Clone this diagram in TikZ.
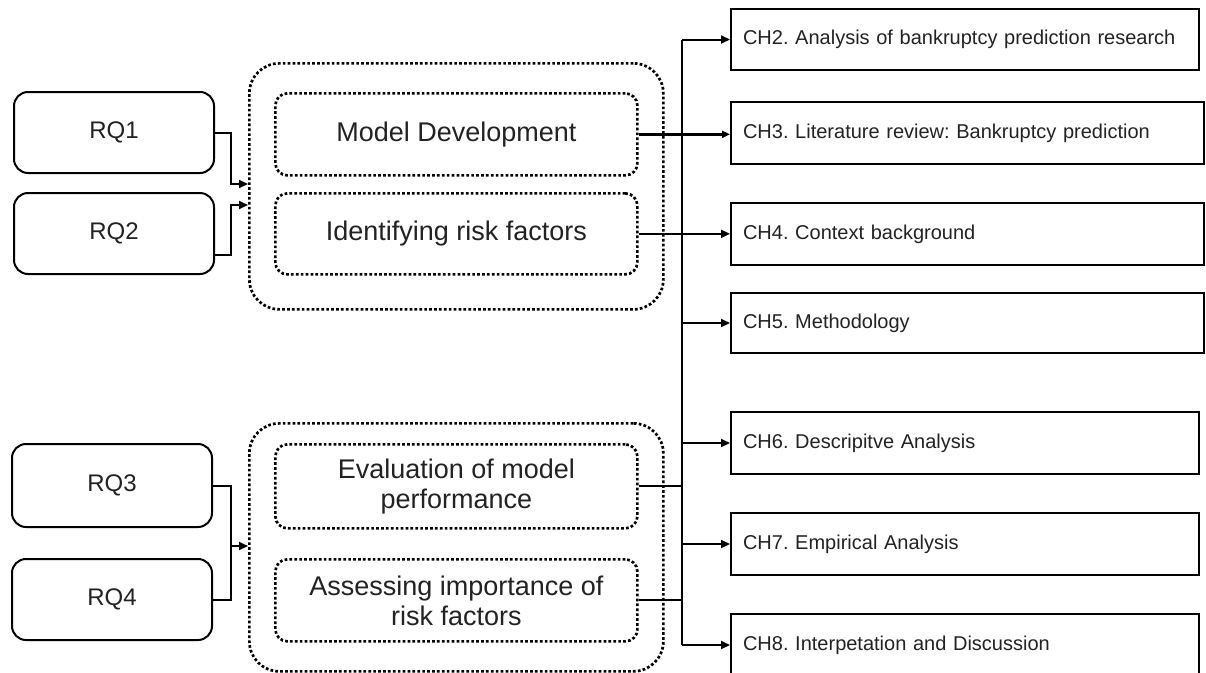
\documentclass[tikz,border=0pt]{standalone}
\usepackage{fontspec}
\setmainfont{Liberation Sans}
\usetikzlibrary{arrows.meta}
\definecolor{txt}{HTML}{222222}
\frenchspacing
\begin{document}
\begin{tikzpicture}[x=1pt,y=-1pt,
  rqbox/.style={draw, line width=2pt, rounded corners=14pt, anchor=north west, minimum width=200pt, text=txt, font=\fontsize{24}{28}\selectfont},
  outerbox/.style={draw, line width=2.7pt, dash pattern=on 2.7pt off 2.2pt, rounded corners=30pt, anchor=north west, minimum width=414pt},
  innerbox/.style={draw, line width=2.7pt, dash pattern=on 2.7pt off 2.2pt, rounded corners=12pt, anchor=north west, minimum width=362pt, text=txt, align=center, font=\fontsize{27}{30}\selectfont},
  chbox/.style={draw, line width=2pt, anchor=north west, inner xsep=12pt, text=txt, align=left, font=\fontsize{20}{24}\selectfont},
  ln/.style={line width=2pt},
  arr/.style={line width=2pt, -{Triangle[length=9pt,width=8pt]}},
  tarr/.style={line width=3.4pt, -{Triangle[length=8pt,width=7pt]}}]
\useasboundingbox (0,0) rectangle (1206,672);
\clip (0,0) rectangle (1206,672);
% RQ boxes
\node[rqbox, minimum height=81pt] (rq1) at (13,91) {RQ1};
\node[rqbox, minimum height=81pt] (rq2) at (13,192) {RQ2};
\node[rqbox, minimum height=83pt] (rq3) at (11,443) {RQ3};
\node[rqbox, minimum height=81pt] (rq4) at (11,558) {RQ4};
% outer dotted groups
\node[outerbox, minimum height=246pt] (g1) at (248,62) {};
\node[outerbox, minimum height=248pt] (g2) at (248,422) {};
% inner dotted boxes
\node[innerbox, minimum height=82pt] (m1) at (274,92) {Model Development};
\node[innerbox, minimum height=81pt] (m2) at (274,192) {Identifying risk factors};
\node[innerbox, minimum height=84pt] (m3) at (274,443) {Evaluation of model\\performance};
\node[innerbox, minimum height=82pt] (m4) at (274,558) {Assessing importance of\\risk factors};
% chapter boxes
\node[chbox, minimum width=468pt, minimum height=61pt, text width=444pt] (ch2) at (730,8) {CH2. Analysis of bankruptcy prediction research};
\node[chbox, minimum width=473pt, minimum height=62pt, text width=449pt] (ch3) at (730,101) {CH3. Literature review: Bankruptcy prediction};
\node[chbox, minimum width=473pt, minimum height=62pt, text width=449pt] (ch4) at (730,202) {CH4. Context background};
\node[chbox, minimum width=473pt, minimum height=60pt, text width=449pt] (ch5) at (730,292) {CH5. Methodology};
\node[chbox, minimum width=468pt, minimum height=62pt, text width=444pt] (ch6) at (730,411) {CH6. Descripitve Analysis};
\node[chbox, minimum width=468pt, minimum height=62pt, text width=444pt] (ch7) at (730,512) {CH7. Empirical Analysis};
\node[chbox, minimum width=468pt, minimum height=62pt, text width=444pt] (ch8) at (730,613) {CH8. Interpetation and Discussion};
% helper coordinates
\coordinate (in1) at (248,184);
\coordinate (in2) at (248,205);
\coordinate (in34) at (248,546);
\coordinate (jx) at (231,0);
\coordinate (bus) at (682,0);
% RQ connectors
\draw[arr] (rq1.east) -| (jx |- in1) -- (in1);
\draw[arr] ([yshift=-21pt]rq2.east) -| (jx |- in2) -- (in2);
\draw[ln] (rq3.east) -| (jx |- rq4.east) -- (rq4.east);
\draw[arr] (in34 -| jx) -- (in34);
% bus
\draw[ln] (ch2.west -| bus) -- (ch8.west -| bus);
\draw[ln] (m3.east) -- (m3.east -| bus);
\draw[ln] (m4.east) -- (m4.east -| bus);
\draw[arr] (ch2.west -| bus) -- (ch2.west);
\draw[tarr] (m1.east) -- (m1.east -| ch3.west);
\draw[arr] (m2.east) -- (m2.east -| ch4.west);
\draw[arr] (ch5.west -| bus) -- (ch5.west);
\draw[arr] (ch6.west -| bus) -- (ch6.west);
\draw[arr] (ch7.west -| bus) -- (ch7.west);
\draw[arr] (ch8.west -| bus) -- (ch8.west);
\end{tikzpicture}
\end{document}
